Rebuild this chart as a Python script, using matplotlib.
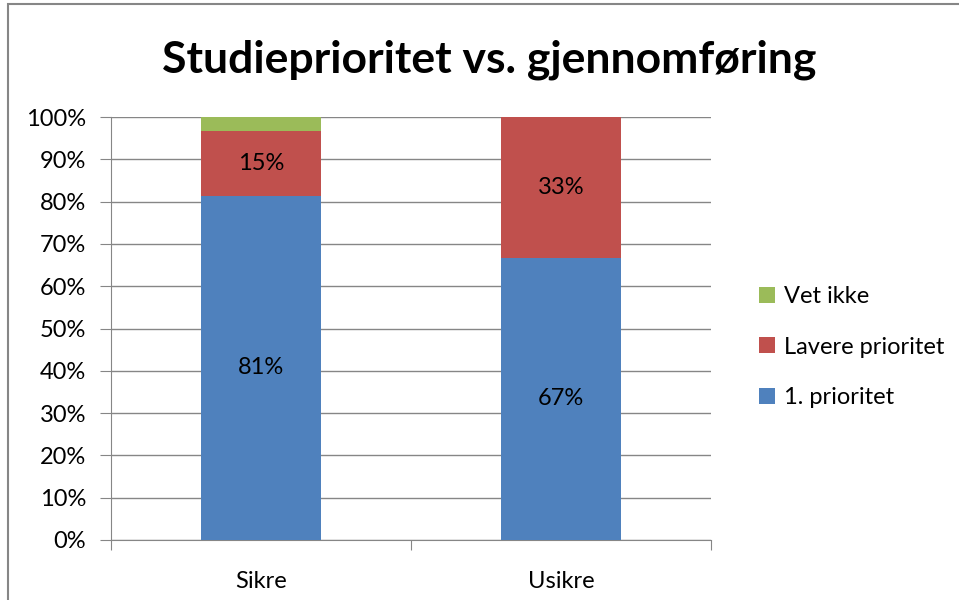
import matplotlib.pyplot as plt
from matplotlib.patches import Rectangle
from matplotlib.ticker import FuncFormatter

categories = ['Sikre', 'Usikre']
forste = [81.4, 66.7]
lavere = [15.3, 33.3]
vet_ikke = [3.3, 0.0]
labels_forste = ['81%', '67%']
labels_lavere = ['15%', '33%']

blue = '#4f81bd'
red = '#c0504d'
green = '#9bbb59'

plt.rcParams['font.family'] = ['Lato', 'DejaVu Sans']

fig = plt.figure(figsize=(9.59, 6.0), dpi=100)
ax = fig.add_axes([111 / 959, 1 - 540 / 600, 600 / 959, 423 / 600])

x = [0.5, 1.5]
w = 0.4
ax.bar(x, forste, w, color=blue, label='1. prioritet', zorder=3)
ax.bar(x, lavere, w, bottom=forste, color=red, label='Lavere prioritet', zorder=3)
bottom3 = [a + b for a, b in zip(forste, lavere)]
ax.bar(x, vet_ikke, w, bottom=bottom3, color=green, label='Vet ikke', zorder=3)

fs = 17
for i in range(2):
    ax.text(x[i], forste[i] / 2, labels_forste[i], ha='center', va='center', fontsize=fs, zorder=4)
    ax.text(x[i], forste[i] + lavere[i] / 2, labels_lavere[i], ha='center', va='center', fontsize=fs, zorder=4)

ax.set_xlim(0, 2)
ax.set_ylim(0, 100)
ax.set_yticks(range(0, 101, 10))
ax.yaxis.set_major_formatter(FuncFormatter(lambda v, p: f'{int(v)}%'))
ax.set_xticks([0, 1, 2])
ax.set_xticklabels([])
ax.set_xticks(x, minor=True)
ax.set_xticklabels(categories, minor=True)
ax.tick_params(axis='x', which='minor', length=0, labelsize=fs, pad=22)
ax.tick_params(axis='x', which='major', length=7, color='#868686', direction='out')
ax.tick_params(axis='y', length=8, color='#868686', labelsize=fs, pad=10)
ax.grid(axis='y', color='#868686', linewidth=1, zorder=0)
for s in ['top', 'right']:
    ax.spines[s].set_visible(False)
ax.spines['left'].set_color('#868686')
ax.spines['bottom'].set_color('#868686')

h, l = ax.get_legend_handles_labels()
fig.legend(h[::-1], l[::-1], loc='center left', bbox_to_anchor=(738 / 959, 1 - 347 / 600),
           frameon=False, fontsize=fs, handlelength=0.65, handleheight=0.65,
           labelspacing=1.25, handletextpad=0.4)

fig.text(489 / 959, 1 - 60 / 600, 'Studieprioritet vs. gjennomføring', ha='center', va='center',
         fontsize=32, fontweight='bold')

fig.patches.append(Rectangle((8 / 959, -0.1), 1.2, (1 - 4 / 600) + 0.1, transform=fig.transFigure,
                             fill=False, edgecolor='#868686', linewidth=1.5))

fig.savefig('out.png', dpi=100)
